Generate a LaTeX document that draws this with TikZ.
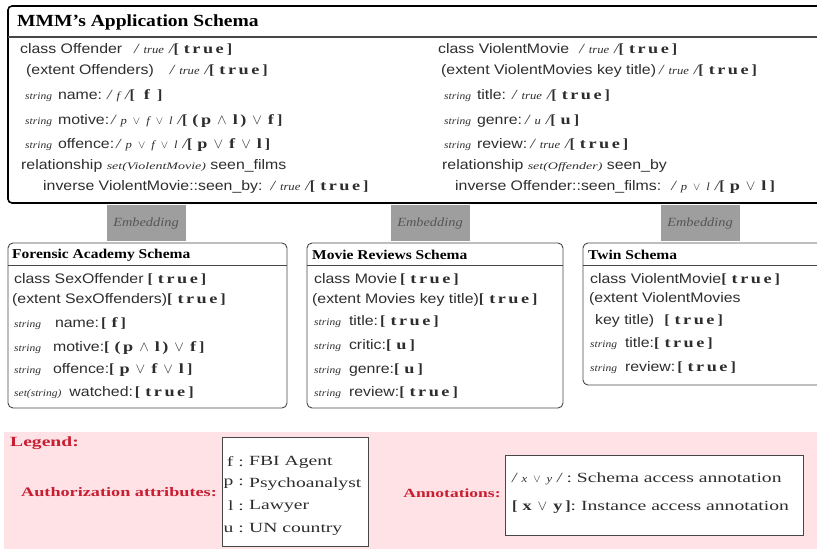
\documentclass[tikz,border=0pt]{standalone}
\usepackage{fontspec}
\setmainfont{Liberation Serif}[FakeStretch=1.15]
\setsansfont{Liberation Sans}[FakeStretch=1.15]
\newfontfamily\legserif{Liberation Serif}[FakeStretch=1.4]
\newfontfamily\iafont{Liberation Serif}[FakeStretch=1.3,LetterSpace=18]

\definecolor{ink}{RGB}{45,45,45}
\definecolor{frame}{RGB}{70,70,70}
\definecolor{legred}{RGB}{200,30,50}
\definecolor{pinkbg}{RGB}{255,226,230}
\definecolor{embfill}{RGB}{158,158,158}
\definecolor{embtext}{RGB}{85,85,85}

% schema access annotation  / x /
\newcommand\SA[1]{{\rmfamily\itshape\fontsize{14}{15}\selectfont /\hspace{5pt}{\fontsize{11}{12}\selectfont #1}\hspace{5pt}/}}
% instance access annotation  [ x ]
\newcommand\IA[1]{{\rmfamily\bfseries\fontsize{14}{15}\selectfont[\hspace{5pt}{\iafont\bfseries #1}\hspace{3pt}]}}
% spaced connectives
\newcommand\tor{\hspace{6pt}$\vee$\hspace{6pt}}
\newcommand\tand{\hspace{6pt}$\wedge$\hspace{6pt}}
% attribute type
\newcommand\TY[1]{{\rmfamily\itshape\fontsize{10}{11}\selectfont #1}}
% relationship target type
\newcommand\TYs[1]{{\legserif\itshape\fontsize{10}{11}\selectfont #1}}

\begin{document}
\begin{tikzpicture}[x=1pt,y=-1pt,
  row/.style={anchor=west,inner sep=0pt,text=ink,font=\sffamily\fontsize{13.8}{15}\selectfont},
  maintitle/.style={anchor=west,inner sep=0pt,font=\rmfamily\bfseries\fontsize{17}{19}\selectfont},
  subtitle/.style={anchor=west,inner sep=0pt,font=\rmfamily\bfseries\fontsize{13.5}{15}\selectfont},
  embbox/.style={fill=embfill,minimum width=79pt,minimum height=36pt,inner sep=0pt,
    text=embtext,font=\rmfamily\itshape\fontsize{12.5}{14}\selectfont},
  schemabox/.style={draw=frame,line width=0.9pt,rounded corners=5pt},
  legtext/.style={inner sep=0pt,text=legred,font=\legserif\bfseries\fontsize{13}{15}\selectfont},
  keytext/.style={inner sep=0pt,text=ink,font=\legserif\fontsize{14}{16}\selectfont}]
\useasboundingbox (0,0) rectangle (817,549);

% ---------------- application schema ----------------
\draw[line width=1.6pt,rounded corners=4pt] (8,6) rectangle (840,203);
\draw[line width=1.2pt,draw=frame] (8,37) -- (817,37);
\node[maintitle] (mmm) at (17,22) {MMM's Application Schema};

\node[row] (o1) at (20,49) {class Offender\hspace{12pt}\SA{true}\IA{true}};
\node[row] (o2) at (26,71) {(extent Offenders)\hspace{16pt}\SA{true}\IA{true}};
\node[row] (o3) at (25,96) {\TY{string}\hspace{6pt}name:\hspace{5pt}\SA{f}\IA{\hspace{4pt}f\hspace{4pt}}};
\node[row] (o4) at (25,121) {\TY{string}\hspace{6pt}motive:\hspace{2pt}\SA{p\tor f\tor l}\IA{(p\tand l)\tor f}};
\node[row] (o5) at (25,145) {\TY{string}\hspace{6pt}offence:\hspace{2pt}\SA{p\tor f\tor l}\IA{p\tor f\tor l}};
\node[row] (o6) at (21,166) {relationship \TYs{set(ViolentMovie)} seen\_films};
\node[row] (o7) at (43,187) {inverse ViolentMovie::seen\_by:\hspace{8pt}\SA{true}\IA{true}};

\node[row] (v1) at (438,49) {class ViolentMovie\hspace{10pt}\SA{true}\IA{true}};
\node[row] (v2) at (441,71) {(extent ViolentMovies key title)\hspace{3pt}\SA{true}\IA{true}};
\node[row] (v3) at (444,96) {\TY{string}\hspace{6pt}title:\hspace{6pt}\SA{true}\IA{true}};
\node[row] (v4) at (444,121) {\TY{string}\hspace{6pt}genre:\hspace{3pt}\SA{u}\IA{u}};
\node[row] (v5) at (444,145) {\TY{string}\hspace{6pt}review:\hspace{3pt}\SA{true}\IA{true}};
\node[row] (v6) at (442,166) {relationship \TYs{set(Offender)} seen\_by};
\node[row] (v7) at (455,187) {inverse Offender::seen\_films:\hspace{10pt}\SA{p\tor l}\IA{p\tor l}};

% ---------------- embeddings ----------------
\node[embbox] (e1) at (146,223) {Embedding};
\node[embbox] (e2) at (430,223) {Embedding};
\node[embbox] (e3) at (700,223) {Embedding};

% ---------------- forensic academy schema ----------------
\draw[schemabox] (8,243) rectangle (287,408);
\draw[draw=frame,line width=0.9pt] (8,265) -- (287,265);
\node[subtitle] (fa) at (12,255) {Forensic Academy Schema};
\node[row] (f1) at (14,279) {class SexOffender\hspace{4pt}\IA{true}};
\node[row] (f2) at (12,300) {(extent SexOffenders)\IA{true}};
\node[row] (f3) at (14,324) {\TY{string}\hspace{14pt}name:\hspace{2pt}\IA{f}};
\node[row] (f4) at (14,348) {\TY{string}\hspace{12pt}motive:\IA{(p\tand l)\tor f}};
\node[row] (f5) at (14,370) {\TY{string}\hspace{12pt}offence:\IA{p\tor f\tor l}};
\node[row] (f6) at (14,393) {\TY{set(string)}\hspace{8pt}watched:\hspace{2pt}\IA{true}};

% ---------------- movie reviews schema ----------------
\draw[schemabox] (307,243) rectangle (563,408);
\draw[draw=frame,line width=0.9pt] (307,265) -- (563,265);
\node[subtitle] (mr) at (312,255) {Movie Reviews Schema};
\node[row] (m1) at (314,279) {class Movie\hspace{3pt}\IA{true}};
\node[row] (m2) at (312,300) {(extent Movies key title)\IA{true}};
\node[row] (m3) at (314,322) {\TY{string}\hspace{8pt}title:\hspace{2pt}\IA{true}};
\node[row] (m4) at (314,346) {\TY{string}\hspace{8pt}critic:\IA{u}};
\node[row] (m5) at (314,370) {\TY{string}\hspace{8pt}genre:\IA{u}};
\node[row] (m6) at (314,393) {\TY{string}\hspace{8pt}review:\IA{true}};

% ---------------- twin schema ----------------
\draw[schemabox] (583,243) rectangle (840,385);
\draw[draw=frame,line width=0.9pt] (583,265) -- (817,265);
\node[subtitle] (tw) at (588,255) {Twin Schema};
\node[row] (t1) at (590,279) {class ViolentMovie\IA{true}};
\node[row] (t2) at (589,299) {(extent ViolentMovies};
\node[row] (t3) at (595,321) {key title)\hspace{10pt}\IA{true}};
\node[row] (t4) at (590,344) {\TY{string}\hspace{8pt}title:\IA{true}};
\node[row] (t5) at (590,368) {\TY{string}\hspace{8pt}review:\hspace{2pt}\IA{true}};

% ---------------- legend ----------------
\fill[pinkbg] (4,432) rectangle (817,549);
\node[legtext,anchor=west,font=\legserif\bfseries\fontsize{14}{16}\selectfont] (leg) at (10,443) {Legend:};
\node[legtext] (auth) at (119,492) {Authorization attributes:};
\node[legtext,font=\legserif\bfseries\fontsize{12.5}{14}\selectfont] (ann) at (452,493) {Annotations:};

\draw[fill=white,draw=frame,line width=1pt] (222,437) rectangle (368,546);
\node[keytext,anchor=east] (kf) at (244,462) {f :};
\node[keytext,anchor=east] (kp) at (244,484) {p :};
\node[keytext,anchor=east] (kl) at (244,506) {l :};
\node[keytext,anchor=east] (ku) at (244,529) {u :};
\node[keytext,anchor=west] (df) at (249,462) {FBI Agent};
\node[keytext,anchor=west] (dp) at (249,484) {Psychoanalyst};
\node[keytext,anchor=west] (dl) at (249,506) {Lawyer};
\node[keytext,anchor=west] (du) at (249,529) {UN country};

\draw[fill=white,draw=frame,line width=1pt] (505,455) rectangle (803,535);
\node[keytext,anchor=west] (ks) at (512,479) {\SA{x\tor y}\ :\ Schema access annotation};
\node[keytext,anchor=west] (ki) at (512,507) {\IA{x\tor y}:\ Instance access annotation};
\end{tikzpicture}
\end{document}
